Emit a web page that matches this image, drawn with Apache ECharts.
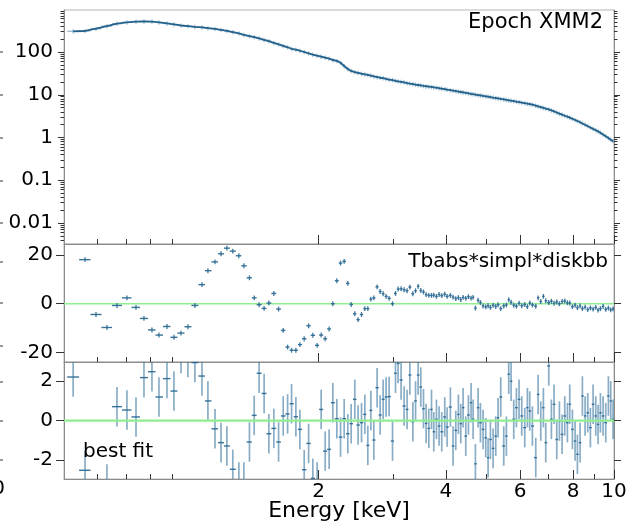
<!DOCTYPE html>
<html><head><meta charset="utf-8">
<script src="https://cdn.jsdelivr.net/npm/echarts@6/dist/echarts.min.js"></script>
<style>html,body{margin:0;padding:0;background:#fff}#chart{width:629px;height:524px}</style>
</head><body><div id="chart"></div>
<script>
// ---- data ----
const energyKeV = [
0.5255,0.5607,0.5952,0.6318,0.6672,0.7045,0.7401,0.7729,0.8073,0.8387,
0.8761,0.9099,0.9454,0.9820,1.020,1.060,1.095,1.138,1.176,1.214,
1.254,1.296,1.332,1.373,
1.409,1.447,1.487,1.526,1.568,1.609,1.650,1.690,1.727,1.768,
1.807,1.850,1.895,1.939,1.985,2.029,2.074,2.119,2.162,2.210,
2.255,2.300,2.346,2.389,2.437,2.481,2.528,2.574,2.616,2.660,
2.703,2.752,2.798,2.844,2.890,2.938,2.993,3.042,3.085,3.136,
3.188,3.240,3.289,3.343,3.393,3.441,3.491,3.543,3.594,3.647,3.701,
3.747,3.802,3.857,3.913,3.978,4.029,4.102,4.162,4.224,4.285,
4.340,4.396,4.460,4.525,4.591,4.642,4.701,4.770,4.831,4.901,
4.973,5.037,5.101,5.176,5.251,5.318,5.396,5.485,5.565,5.636,
5.709,5.792,5.877,5.963,6.050,6.150,6.240,6.320,6.412,6.530,
6.614,6.710,6.808,6.895,7.009,7.111,7.215,7.321,7.428,7.537,
7.647,7.759,7.858,7.973,8.090,8.193,8.313,8.419,8.543,8.668,
8.794,8.923,9.054,9.169,9.286,9.422,9.560,9.700,9.824,9.949
];
const fluxModel = [
305,310,350,405,460,495,515,518,515,492,
465,441,417,402,388,378,362,348,330,313,
292,272,253,236,
223,208,193,180,164,151,139,129,119,113,
107,100,93,87,82,78,74,70,65,62,
56,47,40,36,34,32.5,31,30,29,28,
27,26,25,24.4,23.5,22.7,22,21.2,20.6,20.0,
19.4,18.8,18.3,17.8,17.3,16.9,16.5,16.1,15.8,15.5,15.2,
14.9,14.6,14.2,13.9,13.5,13.2,12.8,12.5,12.2,11.9,
11.6,11.4,11.1,10.8,10.5,10.3,10.1,9.85,9.63,9.38,
9.18,8.99,8.79,8.56,8.38,8.20,7.99,7.77,7.57,7.41,
7.25,7.10,6.91,6.73,6.55,6.34,6.18,6.05,5.89,5.58,
5.37,5.15,4.93,4.75,4.55,4.31,4.07,3.84,3.61,3.43,
3.23,3.08,2.92,2.74,2.57,2.43,2.28,2.13,1.99,1.84,
1.71,1.59,1.48,1.39,1.29,1.17,1.07,0.97,0.89,0.82
];
const resTbabs = [
null,18.0,-4.4,-9.7,-0.7,2.4,-1.5,-6.0,-10.7,-12.8,
-9.3,-13.7,-12.0,-9.4,-0.7,7.8,13.5,17.1,20.4,22.7,
21.5,19.6,15.5,10.6,
2.4,-0.4,-1.9,0.3,4.2,-2.2,-10.9,-17.7,-19.0,-19.0,
-16.7,-14.3,-9.0,-12.9,-17.0,-12.8,-14.3,-10.3,0.0,9.4,
16.6,17.3,8.3,-0.3,-4.1,-6.5,-4.4,-2.0,-2.0,1.9,
2.4,6.9,5.0,4.1,3.0,2.2,0.0,4.2,6.0,6.1,
5.7,5.3,6.8,4.1,5.3,7.1,5.4,4.8,3.7,3.4,3.4,
3.5,3.0,3.8,3.3,3.9,3.0,3.4,2.7,2.1,2.5,
1.7,2.6,2.2,2.9,2.3,2.6,-1.8,1.4,0.5,-0.9,
-1.3,-0.8,-1.5,-0.6,-1.1,-0.4,-2.0,-0.9,-0.5,1.6,
0.6,-0.6,-1.0,0.2,-0.8,-0.3,-1.2,0.3,-0.5,-1.0,
2.4,0.9,3.0,1.2,0.5,1.0,0.2,0.7,0.0,0.9,
1.1,0.4,0.3,-1.2,-0.6,-1.6,-0.9,-2.0,-1.4,-2.4,
-1.7,-2.2,-1.5,-2.6,-2.0,-1.1,-2.3,-1.8,-2.5,-2.1
];
const resBestFit = [
2.21,-2.51,null,-3.2,0.71,0.54,0.19,2.18,2.48,1.2,
2.13,1.5,3.4,3.2,2.94,2.26,1.0,-0.41,-1.11,-1.28,
-2.46,-3.1,-3.1,-1.08,
0.27,2.40,1.38,-0.66,-0.39,-1.08,0.24,0.34,0.86,0.2,
-0.44,-2.48,-1.15,-2.92,-3.1,0.57,-1.54,-1.45,0.91,0.1,
-0.83,0.1,-0.66,-0.15,1.08,-0.22,-0.1,0.32,-1.25,0.52,
-0.98,1.67,0.29,1.08,1.2,1.22,-1.03,2.40,2.9,2.06,
0.74,0.57,2.31,-0.05,1.0,2.31,1.7,0.61,-0.14,-0.39,0.57,
-0.56,0.07,-0.27,-0.56,0.19,-0.32,0.69,-1.28,-0.49,0.32,
-0.15,0.66,-0.78,0.29,0.91,0.07,-2.18,0.66,-0.10,-0.44,
-0.86,-1.87,-0.95,-1.40,-0.78,0.15,1.20,-1.28,-0.78,2.35,
2.00,0.07,0.66,1.08,0.24,-0.35,0.66,0.49,-0.27,-1.87,
1.33,-0.02,0.66,-1.11,2.77,0.07,0.83,-0.95,-0.02,-0.69,
0.24,-0.10,0.83,-0.44,-1.03,-1.70,-1.11,1.25,0.24,0.40,
-0.35,0.83,0.24,-0.19,0.40,0.24,-0.10,1.25,1.00,0.07
];
const fluxRelErr = 0.12;   // half-height of flux error bars (fraction)
const residualErr = 1;     // residuals in units of sigma

const xMajorTicks = [2,4,6,8,10];
const xMinorTicks = [0.6,0.7,0.8,0.9,3,5,7,9];
const fluxTickLabels = [0.01,0.1,1,10,100];
const resTbabsTicks = [-20,0,20];
const resBestTicks = [-2,0,2];
const topLabel = 'Epoch XMM2';
const midLabel = 'Tbabs*simpl*diskbb';
const botLabel = 'best fit';
const xTitle = 'Energy [keV]';

// ---- derived ----
const X_MIN = 0.5, X_MAX = 10;
const FLUX_MIN = 0.00323, FLUX_MAX = 960;
const TB_MIN = -23.8, TB_MAX = 24.4;
const BF_MIN = -2.95, BF_MAX = 2.97;

const fluxMinorTicks = [];
[0.001,0.01,0.1,1,10,100].forEach(d => { for (let m = 2; m <= 9; m++) { const v = +(m*d).toPrecision(3); if (v > FLUX_MIN && v < FLUX_MAX) fluxMinorTicks.push(v); } });

function binEdges(i) {
  const e = energyKeV[i], n = energyKeV.length;
  const prev = i > 0 ? energyKeV[i-1] : e*e/energyKeV[i+1];
  const next = i < n-1 ? energyKeV[i+1] : e*e/energyKeV[i-1];
  return [Math.max(X_MIN, Math.sqrt(prev*e)), Math.min(X_MAX, Math.sqrt(e*next))];
}
function errData(vals, lowF, highF) {
  const out = [];
  energyKeV.forEach((e, i) => {
    const v = vals[i];
    if (v == null) return;
    const b = binEdges(i);
    out.push([e, v, lowF(v), highF(v), b[0], b[1]]);
  });
  return out;
}
function makeErr(cfg) {
  return function (params, api) {
    const E = api.value(0), y = api.value(1), ylo = api.value(2), yhi = api.value(3), lo = api.value(4), hi = api.value(5);
    const c = v => Math.min(cfg.yMax, Math.max(cfg.yMin, v));
    const children = [];
    if (yhi > cfg.yMin && ylo < cfg.yMax) {
      const p1 = api.coord([E, c(ylo)]), p2 = api.coord([E, c(yhi)]);
      children.push({type:'line', shape:{x1:p1[0],y1:p1[1],x2:p2[0],y2:p2[1]},
        style:{stroke:cfg.vColor, lineWidth:cfg.vWidth, opacity:cfg.vOpacity}});
    }
    if (y >= cfg.yMin && y <= cfg.yMax) {
      const a = api.coord([lo, y]), b = api.coord([hi, y]);
      children.push({type:'line', shape:{x1:a[0],y1:a[1],x2:b[0],y2:b[1]},
        style:{stroke:cfg.hColor, lineWidth:cfg.hWidth, opacity:cfg.hOpacity}});
    }
    return {type:'group', children};
  };
}

const FONT = 'DejaVu Sans';
const BLUE = '#2c6a93';
const TICK = '#333';
const SPINE = '#8c8c8c';
const grids = [
  {left:64, right:15, top:10, height:234},
  {left:64, right:15, top:244, height:118},
  {left:64, right:15, top:362, height:117}
];

const xAxes = [];
grids.forEach((g, gi) => {
  xAxes.push({
    type:'log', logBase:10, gridIndex:gi, position:'bottom', min:X_MIN, max:X_MAX,
    axisLine:{show:true, onZero:false, lineStyle:{color:SPINE, width:1}},
    axisTick:{show:true, inside:true, length:9, customValues:xMajorTicks, lineStyle:{color:TICK, width:1}},
    axisLabel:{show:gi===2, customValues:xMajorTicks, margin:3, fontSize:20, color:'#000', fontFamily:FONT},
    splitLine:{show:false}, minorTick:{show:false},
    name: gi===2 ? xTitle : '', nameLocation:'middle', nameGap:21, nameMoveOverlap:false,
    nameTextStyle:{fontSize:22, color:'#000', fontFamily:FONT}
  });
  xAxes.push({
    type:'log', logBase:10, gridIndex:gi, position:'bottom', min:X_MIN, max:X_MAX,
    axisLine:{show:false, onZero:false},
    axisTick:{show:true, inside:true, length:5, customValues:xMinorTicks, lineStyle:{color:TICK, width:1}},
    axisLabel:{show:false}, splitLine:{show:false}
  });
});

function yAx(o) {
  return Object.assign({
    splitLine:{show:false},
    axisLine:{show:true, onZero:false, lineStyle:{color:SPINE, width:1}},
  }, o);
}
const labelStyle = {margin:11, fontSize:20, color:'#000', fontFamily:FONT};
const yAxes = [
  yAx({type:'log', logBase:10, gridIndex:0, position:'left', min:FLUX_MIN, max:FLUX_MAX,
       axisTick:{show:true, length:6, customValues:fluxTickLabels, lineStyle:{color:TICK}},
       axisLabel:Object.assign({customValues:fluxTickLabels, formatter:v=>String(+(+v).toPrecision(6))}, labelStyle)}),
  yAx({type:'log', logBase:10, gridIndex:0, position:'left', min:FLUX_MIN, max:FLUX_MAX, axisLine:{show:false, onZero:false},
       axisTick:{show:true, length:3.5, customValues:fluxMinorTicks, lineStyle:{color:TICK}}, axisLabel:{show:false}}),
  yAx({type:'log', logBase:10, gridIndex:0, position:'right', min:FLUX_MIN, max:FLUX_MAX,
       axisTick:{show:true, length:6, customValues:fluxTickLabels, lineStyle:{color:TICK}}, axisLabel:{show:false}}),
  yAx({type:'log', logBase:10, gridIndex:0, position:'right', min:FLUX_MIN, max:FLUX_MAX, axisLine:{show:false, onZero:false},
       axisTick:{show:true, length:3.5, customValues:fluxMinorTicks, lineStyle:{color:TICK}}, axisLabel:{show:false}}),
  yAx({type:'value', gridIndex:1, position:'left', min:TB_MIN, max:TB_MAX,
       axisTick:{show:true, length:8, customValues:resTbabsTicks, lineStyle:{color:TICK}},
       axisLabel:Object.assign({customValues:resTbabsTicks}, labelStyle)}),
  yAx({type:'value', gridIndex:1, position:'right', min:TB_MIN, max:TB_MAX,
       axisTick:{show:true, length:7, customValues:resTbabsTicks, lineStyle:{color:TICK}}, axisLabel:{show:false}}),
  yAx({type:'value', gridIndex:2, position:'left', min:BF_MIN, max:BF_MAX,
       axisTick:{show:true, length:8, customValues:resBestTicks, lineStyle:{color:TICK}},
       axisLabel:Object.assign({customValues:resBestTicks}, labelStyle)}),
  yAx({type:'value', gridIndex:2, position:'right', min:BF_MIN, max:BF_MAX,
       axisTick:{show:true, length:7, customValues:resBestTicks, lineStyle:{color:TICK}}, axisLabel:{show:false}})
];

const series = [
  {type:'custom', xAxisIndex:0, yAxisIndex:0, z:2,
   data: errData(fluxModel, v=>v*(1-fluxRelErr), v=>v*(1+fluxRelErr)),
   encode:{x:0, y:1},
   renderItem: makeErr({yMin:FLUX_MIN, yMax:FLUX_MAX, vColor:'#3a77a0', vWidth:1.3, vOpacity:0.45, hColor:'#3a77a0', hWidth:1.3, hOpacity:0.5})},
  {type:'line', xAxisIndex:0, yAxisIndex:0, z:3, showSymbol:false, symbol:'none',
   data: energyKeV.map((e,i)=>[e, fluxModel[i]]),
   lineStyle:{color:'#24628c', width:1.8}},
  {type:'line', xAxisIndex:2, yAxisIndex:4, z:1, symbol:'none', data:[[X_MIN,0],[X_MAX,0]],
   lineStyle:{color:'#90ee90', width:1.3}},
  {type:'custom', xAxisIndex:2, yAxisIndex:4, z:2,
   data: errData(resTbabs, v=>v-residualErr, v=>v+residualErr), encode:{x:0, y:1},
   renderItem: makeErr({yMin:TB_MIN, yMax:TB_MAX, vColor:BLUE, vWidth:1.3, vOpacity:0.9, hColor:BLUE, hWidth:1.4, hOpacity:0.95})},
  {type:'custom', xAxisIndex:4, yAxisIndex:6, z:2,
   data: errData(resBestFit, v=>v-residualErr, v=>v+residualErr), encode:{x:0, y:1},
   renderItem: makeErr({yMin:BF_MIN, yMax:BF_MAX, vColor:'#3a77a0', vWidth:1.7, vOpacity:0.6, hColor:BLUE, hWidth:1.4, hOpacity:0.95})},
  {type:'line', xAxisIndex:4, yAxisIndex:6, z:5, symbol:'none', data:[[X_MIN,0],[X_MAX,0]],
   lineStyle:{color:'#90ee90', width:2.2}}
];

const txt = (text, x, y, align, size) => ({type:'text', x, y, z:10,
  style:{text, fill:'#000', font:`${size}px "${FONT}"`, textAlign:align, textVerticalAlign:'middle'}});
const edgeTicksY = [52,95,138,181,223,262,303,346,382,421,460];
const graphic = [
  txt(topLabel, 603, 23, 'right', 21),
  txt(midLabel, 608, 262, 'right', 20),
  txt(botLabel, 83, 452, 'left', 20),
  txt('10', 5, 489, 'right', 20)
].concat(edgeTicksY.map(y => ({type:'line', z:10, shape:{x1:0, y1:y, x2:3, y2:y}, style:{stroke:'#333', lineWidth:1}})));

const chart = echarts.init(document.getElementById('chart'), null, {renderer:'canvas'});
chart.setOption({
  animation:false,
  backgroundColor:'#fff',
  grid: grids.map(g => Object.assign({show:true, borderColor:'#b4b4b4', borderWidth:1, backgroundColor:'transparent', containLabel:false, outerBoundsMode:'none'}, g)),
  xAxis: xAxes,
  yAxis: yAxes,
  series,
  graphic
});
</script></body></html>
